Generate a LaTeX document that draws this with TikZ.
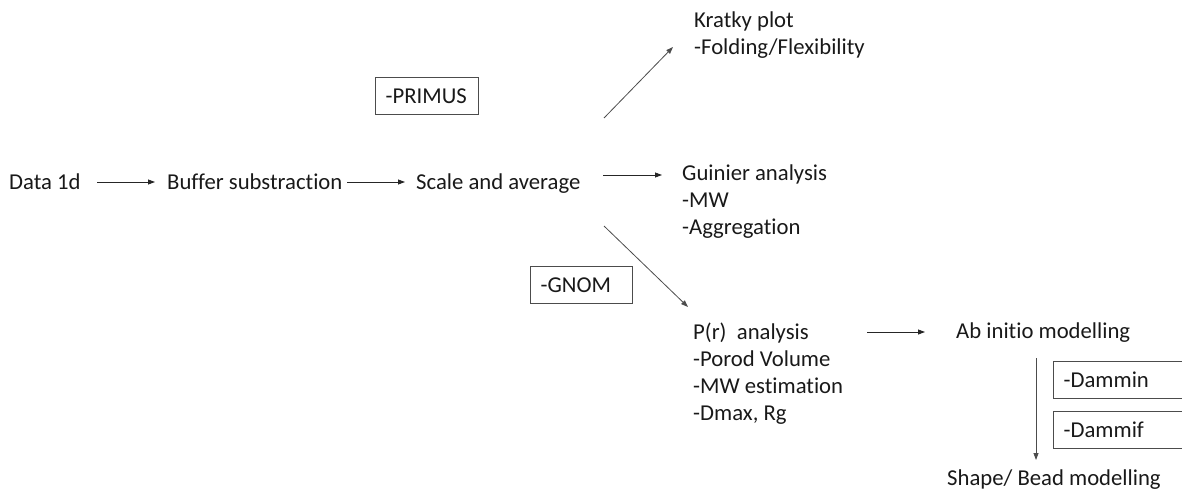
\documentclass[tikz,border=0pt]{standalone}
\usepackage{fontspec}
\setmainfont{Carlito}[Ligatures=NoCommon]
\usetikzlibrary{arrows.meta,calc}
\begin{document}
\begin{tikzpicture}[x=1pt,y=-1pt,
  every node/.style={inner sep=0pt,font=\fontsize{22.7}{27}\selectfont,text=black!90},
  lbl/.style={anchor=base west},
  blk/.style={anchor=base west,align=left},
  toolbox/.style={draw=black!70,line width=1.4pt,anchor=north west,minimum height=37pt,
    text height=14pt,text depth=0pt,inner xsep=10pt,align=left},
  arr/.style={draw=black!85,line width=0.8pt,-{Triangle[length=7pt,width=5pt]}},
  darr/.style={draw=black!70,line width=0.8pt,-{Triangle[length=7pt,width=5pt]}}]
\useasboundingbox (0,0) rectangle (1182,493);
% main row
\node[lbl] (data) at (9,189) {Data 1d};
\node[lbl] (buffer) at (167,189) {Buffer substraction};
\node[lbl] (scale) at (416,189) {Scale and average};
% results (base = last line)
\node[blk] (kratky) at (694,54) {Kratky plot\\-Folding/Flexibility};
\node[blk] (guinier) at (682,234) {Guinier analysis\\-MW\\-Aggregation};
\node[blk] (pr) at (693,420) {P(r)\ \ analysis\\-Porod Volume\\-MW estimation\\-Dmax, Rg};
\node[lbl] (abinitio) at (956,338) {Ab initio modelling};
\node[lbl] (shape) at (947,485) {Shape/ Bead modelling};
% tool boxes
\node[toolbox,text width=83pt] (primus) at (375,77) {-PRIMUS};
\node[toolbox,text width=82pt] (gnom) at (530,266) {-GNOM};
\node[toolbox,text width=111pt] (dammin) at (1053,361) {-Dammin};
\node[toolbox,text width=111pt] (dammif) at (1053,411) {-Dammif};
% connectors
\draw[arr] ($(data.base west)+(88,-7)$) -- ($(buffer.base west)+(-12,-7)$);
\draw[arr] ($(buffer.base west)+(180,-7)$) -- ($(scale.base west)+(-11,-7)$);
\draw[darr] ($(scale.base west)+(188,-71)$) -- ($(kratky.base west)+(-21,-7)$);
\draw[arr] ($(scale.base west)+(187,-14)$) -- ($(guinier.base west)+(-20,-59)$);
\draw[darr] ($(scale.base west)+(188,37)$) -- ($(pr.base west)+(-5,-113)$);
\draw[arr] ($(pr.base west)+(174,-88)$) -- ($(abinitio.base west)+(-31,-6)$);
\draw[darr] ($(abinitio.base west)+(80,20)$) -- ($(shape.base west)+(89,-25)$);
\end{tikzpicture}
\end{document}
